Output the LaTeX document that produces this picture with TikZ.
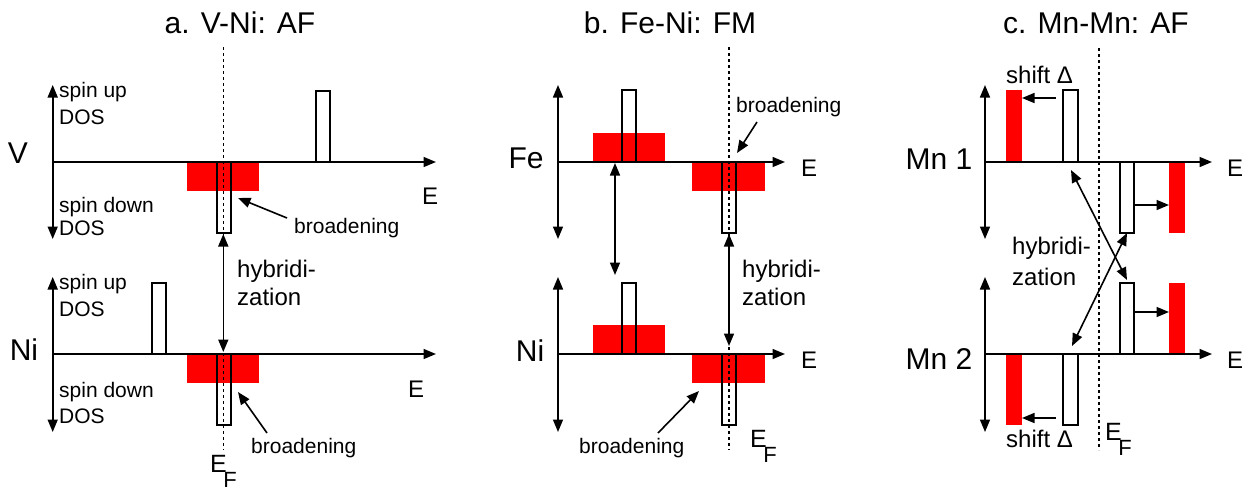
\documentclass[tikz,border=0pt]{standalone}
\usepackage{fontspec}
\setmainfont{Liberation Sans}
\usetikzlibrary{arrows.meta}
\newcommand{\efsub}{\kern-3.5pt\raisebox{-15pt}{\fontsize{22}{26}\selectfont F}}
\begin{document}
\begin{tikzpicture}[x=1pt,y=-1pt,
  tipA/.tip={Triangle[length=12.5pt,width=10pt]},
  ax/.style={line width=1.6pt,-tipA},
  dax/.style={line width=1.6pt,tipA-tipA},
  pk/.style={draw=black,line width=1.6pt},
  redbox/.style={fill=red},
  efline/.style={line width=1.5pt,dash pattern=on 3pt off 3pt},
  ttl/.style={font=\fontsize{30}{34}\selectfont,inner sep=0pt,anchor=base},
  elab/.style={font=\fontsize{30}{34}\selectfont,inner sep=0pt,anchor=base},
  sm/.style={font=\fontsize{21}{24}\selectfont,inner sep=0pt,anchor=base west},
  md/.style={font=\fontsize{24}{28}\selectfont,inner sep=0pt,anchor=base west},
  elbl/.style={font=\fontsize{24}{28}\selectfont,inner sep=0pt,anchor=base west},
  efe/.style={font=\fontsize{25}{28}\selectfont,inner sep=0pt,anchor=base west}
]
\useasboundingbox (0,0) rectangle (1248,491);

% ================= panel a =================
\node[ttl] (ta) at (240,33) {a. V-Ni: AF};
\fill[redbox] (187,162) rectangle (259,191);
\fill[redbox] (187,354) rectangle (259,383);
\coordinate (aVo) at (52.7,162); \coordinate (aVe) at (436,162);
\coordinate (aVt) at (52.7,85);  \coordinate (aVb) at (52.7,239);
\draw[ax] (aVo) -- (aVe);
\draw[dax] (aVt) -- (aVb);
\coordinate (aNo) at (52.7,354); \coordinate (aNe) at (436,354);
\coordinate (aNt) at (52.7,277); \coordinate (aNb) at (52.7,432);
\draw[ax] (aNo) -- (aNe);
\draw[dax] (aNt) -- (aNb);
\draw[pk] (315.7,90.7) rectangle (330,162);
\draw[pk] (216.7,162) rectangle (230.7,233);
\draw[pk] (152,283) rectangle (166,354);
\draw[pk] (216.7,354) rectangle (230.7,425);
\coordinate (aEFt) at (223.3,47); \coordinate (aEFb) at (223.3,450);
\draw[efline] (aEFt) -- (aEFb);
\coordinate (aH1) at (223.3,234); \coordinate (aH2) at (223.3,352);
\draw[dax] (aH1) -- (aH2);
\node[elab] (aV) at (18,163) {V};
\node[elab] (aNi) at (24,360) {Ni};
\node[sm] (a1) at (59,97) {spin up};
\node[sm] (a2) at (59,124) {DOS};
\node[sm] (a3) at (59,212) {spin down};
\node[sm] (a4) at (59,235) {DOS};
\node[sm] (a5) at (59,289) {spin up};
\node[sm] (a6) at (59,316) {DOS};
\node[sm] (a7) at (59,397) {spin down};
\node[sm] (a8) at (59,423) {DOS};
\node[elbl] (aE1) at (422,204) {E};
\node[elbl] (aE2) at (408,397) {E};
\node[md] (ah1) at (237,277) {hybridi-};
\node[md] (ah2) at (237,305) {zation};
\node[sm] (ab1) at (294,233) {broadening};
\node[sm] (ab2) at (251,453) {broadening};
\node[efe] (aEF) at (210,472) {E\efsub};
\coordinate (ab1s) at (287,218); \coordinate (ab1e) at (238,198);
\draw[ax] (ab1s) -- (ab1e);
\coordinate (ab2s) at (267,433); \coordinate (ab2e) at (238,392);
\draw[ax] (ab2s) -- (ab2e);

% ================= panel b =================
\node[ttl] (tb) at (670,33) {b. Fe-Ni: FM};
\fill[redbox] (593,133) rectangle (665,162);
\fill[redbox] (692,162) rectangle (765,191);
\fill[redbox] (593,325) rectangle (665,354);
\fill[redbox] (692,354) rectangle (765,383);
\coordinate (bFo) at (558,162); \coordinate (bFe) at (785,162);
\coordinate (bFt) at (558,85);  \coordinate (bFb) at (558,239);
\draw[ax] (bFo) -- (bFe);
\draw[dax] (bFt) -- (bFb);
\coordinate (bNo) at (558,354); \coordinate (bNe) at (785,354);
\coordinate (bNt) at (558,277); \coordinate (bNb) at (558,432);
\draw[ax] (bNo) -- (bNe);
\draw[dax] (bNt) -- (bNb);
\draw[pk] (622,90) rectangle (636,162);
\draw[pk] (722,162) rectangle (736,233);
\draw[pk] (622,283) rectangle (636,354);
\draw[pk] (722,354) rectangle (736,425);
\coordinate (bEFt) at (729,47); \coordinate (bEFb) at (729,450);
\draw[efline] (bEFt) -- (bEFb);
\coordinate (bH1) at (729,234); \coordinate (bH2) at (729,346);
\draw[dax] (bH1) -- (bH2);
\coordinate (bL1) at (615,163); \coordinate (bL2) at (615,275);
\draw[dax] (bL1) -- (bL2);
\node[elab] (bFel) at (526,168) {Fe};
\node[elab] (bNi) at (530,361) {Ni};
\node[elbl] (bE1) at (801,176) {E};
\node[elbl] (bE2) at (801,368) {E};
\node[md] (bh1) at (742,277) {hybridi-};
\node[md] (bh2) at (742,305) {zation};
\node[sm] (bb1) at (736,112) {broadening};
\node[sm] (bb2) at (579,453) {broadening};
\node[efe] (bEF) at (750,447) {E\efsub};
\coordinate (bb1s) at (757,122); \coordinate (bb1e) at (737,153);
\draw[ax] (bb1s) -- (bb1e);
\coordinate (bb2s) at (658,433); \coordinate (bb2e) at (699,391);
\draw[ax] (bb2s) -- (bb2e);

% ================= panel c =================
\node[ttl] (tc) at (1096,33) {c. Mn-Mn: AF};
\fill[redbox] (1006,90) rectangle (1022,162);
\fill[redbox] (1169,162) rectangle (1185,233);
\fill[redbox] (1006,354) rectangle (1022,425);
\fill[redbox] (1169,283) rectangle (1185,354);
\coordinate (cAo) at (985,162); \coordinate (cAe) at (1212,162);
\coordinate (cAt) at (985,85);  \coordinate (cAb) at (985,239);
\draw[ax] (cAo) -- (cAe);
\draw[dax] (cAt) -- (cAb);
\coordinate (cBo) at (985,354); \coordinate (cBe) at (1212,354);
\coordinate (cBt) at (985,277); \coordinate (cBb) at (985,432);
\draw[ax] (cBo) -- (cBe);
\draw[dax] (cBt) -- (cBb);
\draw[pk] (1063,90) rectangle (1078,162);
\draw[pk] (1120,162) rectangle (1134,233);
\draw[pk] (1063,354) rectangle (1078,425);
\draw[pk] (1120,283) rectangle (1134,354);
\coordinate (cEFt) at (1099,48); \coordinate (cEFb) at (1099,450);
\draw[efline] (cEFt) -- (cEFb);
\coordinate (cs1a) at (1056,98);  \coordinate (cs1b) at (1022,98);
\coordinate (cs2a) at (1134,205); \coordinate (cs2b) at (1169,205);
\coordinate (cs3a) at (1056,418); \coordinate (cs3b) at (1022,418);
\coordinate (cs4a) at (1134,312); \coordinate (cs4b) at (1169,312);
\draw[ax] (cs1a) -- (cs1b);
\draw[ax] (cs2a) -- (cs2b);
\draw[ax] (cs3a) -- (cs3b);
\draw[ax] (cs4a) -- (cs4b);
\coordinate (cx1a) at (1071,170); \coordinate (cx1b) at (1127,280);
\coordinate (cx2a) at (1127,233); \coordinate (cx2b) at (1072,346);
\draw[dax] (cx1a) -- (cx1b);
\draw[dax] (cx2a) -- (cx2b);
\node[elab] (cM1) at (939,169) {Mn 1};
\node[elab] (cM2) at (939,369) {Mn 2};
\node[elbl] (cE1) at (1227,176) {E};
\node[elbl] (cE2) at (1227,368) {E};
\node[md] (cd1) at (1006,83) {shift Δ};
\node[md] (cd2) at (1006,447) {shift Δ};
\node[md] (ch1) at (1012,254) {hybridi-};
\node[md] (ch2) at (1012,285) {zation};
\node[efe] (cEF) at (1105,440) {E\efsub};
\end{tikzpicture}
\end{document}
